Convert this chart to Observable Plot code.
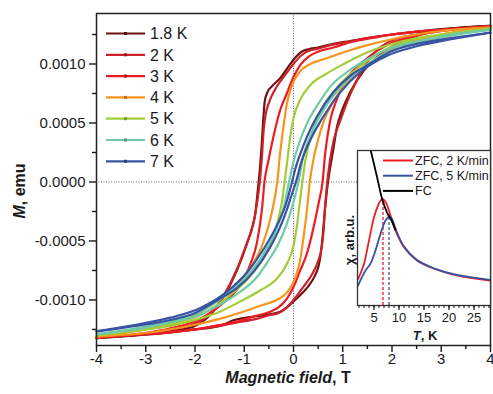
<!DOCTYPE html>
<html><head><meta charset="utf-8">
<script src="https://cdn.jsdelivr.net/npm/d3@7"></script>
<script src="https://cdn.jsdelivr.net/npm/@observablehq/plot@0.6"></script>
<style>
body{margin:0;background:#fff;}
#wrap{position:relative;width:493px;height:394px;font-family:"Liberation Sans",Arial,sans-serif;}
#wrap svg{position:absolute;left:0;top:0;}
</style></head><body><div id="wrap"></div>
<script>
// ---------- main chart data: hysteresis loops M(H), emu vs T ----------
const temps = ["1.8 K","2 K","3 K","4 K","5 K","6 K","7 K"];
const colors = ["#6d1212","#cc2229","#ed1c24","#f7941d","#a4cc39","#6fcaa5","#3953a4"];

// descending-field branch (listed by increasing H) and ascending-field branch
const down18 = [[-4,-0.001323],[-3,-0.001288],[-2.5,-0.001262],[-2,-0.00122],[-1.7,-0.00113],[-1.4,-0.00096],[-1.15,-0.00075],[-0.95,-0.00053],[-0.85,-0.0004],[-0.78,-0.00028],[-0.72,-0.00005],[-0.68,0.00012],[-0.645,0.00032],[-0.615,0.00052],[-0.585,0.00068],[-0.53,0.00076],[-0.44,0.00081],[-0.27,0.00088],[-0.1,0.00098],[0.03,0.00105],[0.15,0.0011],[0.3,0.001125],[0.5,0.00114],[0.75,0.001165],[1.15,0.001195],[1.5,0.00122],[2,0.00125],[2.5,0.001275],[3,0.001295],[4,0.001323]];
const up18 = [[-4,-0.001323],[-3,-0.001295],[-2.5,-0.001275],[-2,-0.00125],[-1.5,-0.00122],[-1.2,-0.00117],[-0.8,-0.00114],[-0.54,-0.001126],[-0.27,-0.0011],[-0.07,-0.00104],[0.07,-0.000985],[0.27,-0.0009],[0.44,-0.00079],[0.51,-0.00071],[0.55,-0.00062],[0.58,-0.00051],[0.64,-0.00023],[0.7,0.0],[0.76,0.00016],[0.81,0.00028],[0.88,0.00046],[0.98,0.0006],[1.15,0.00076],[1.42,0.00094],[1.76,0.00108],[2.1,0.00117],[2.5,0.00124],[3,0.001288],[4,0.001323]];

const down2 = [[-4,-0.00132],[-3,-0.00128],[-2.5,-0.00125],[-2,-0.0012],[-1.7,-0.00112],[-1.4,-0.00095],[-1.15,-0.00074],[-0.95,-0.00052],[-0.82,-0.00036],[-0.74,-0.00018],[-0.68,0.00002],[-0.64,0.00022],[-0.61,0.00042],[-0.57,0.00056],[-0.5,0.00067],[-0.38,0.00078],[-0.2,0.00089],[0,0.001],[0.15,0.00107],[0.3,0.00111],[0.5,0.00113],[0.75,0.00116],[1.15,0.00119],[1.5,0.00122],[2,0.00125],[2.5,0.001272],[3,0.00129],[4,0.00132]];
const up2 = [[-4,-0.00132],[-3,-0.00129],[-2.5,-0.001272],[-2,-0.00125],[-1.5,-0.00122],[-1.15,-0.00119],[-0.75,-0.00116],[-0.5,-0.00113],[-0.3,-0.00111],[-0.15,-0.00107],[0,-0.001],[0.2,-0.00089],[0.38,-0.00078],[0.5,-0.00067],[0.57,-0.00056],[0.61,-0.00042],[0.64,-0.00022],[0.68,-0.00002],[0.74,0.00018],[0.82,0.00036],[0.95,0.00052],[1.15,0.00074],[1.4,0.00095],[1.7,0.00112],[2,0.0012],[2.5,0.00125],[3,0.00128],[4,0.00132]];

const down3 = [[-4,-0.00132],[-3,-0.00128],[-2.5,-0.00124],[-2,-0.00118],[-1.5,-0.00105],[-1.08,-0.00087],[-0.88,-0.0007],[-0.74,-0.00051],[-0.64,-0.00023],[-0.59,0.0],[-0.51,0.00018],[-0.41,0.00038],[-0.27,0.00061],[-0.136,0.00075],[0,0.00089],[0.136,0.00099],[0.3,0.00106],[0.47,0.0011],[0.81,0.00114],[1.2,0.00119],[1.6,0.00122],[2,0.00125],[2.5,0.001275],[3,0.00129],[4,0.00132]];
const up3 = [[-4,-0.00132],[-3,-0.00129],[-2.5,-0.001275],[-2,-0.00125],[-1.6,-0.00122],[-1.2,-0.00119],[-0.81,-0.00114],[-0.47,-0.0011],[-0.3,-0.00106],[-0.136,-0.00099],[0,-0.00089],[0.136,-0.00075],[0.27,-0.00061],[0.41,-0.00038],[0.51,-0.00018],[0.59,0.0],[0.64,0.00023],[0.74,0.00051],[0.88,0.0007],[1.08,0.00087],[1.5,0.00105],[2,0.00118],[2.5,0.00124],[3,0.00128],[4,0.00132]];

const down4 = [[-4,-0.00131],[-3,-0.00125],[-2.5,-0.0012],[-2,-0.00113],[-1.7,-0.00105],[-1.22,-0.0009],[-0.88,-0.00073],[-0.62,-0.00052],[-0.5,-0.00036],[-0.41,-0.0002],[-0.33,0.0],[-0.27,0.00025],[-0.2,0.00048],[-0.14,0.00065],[-0.03,0.00082],[0.14,0.00094],[0.34,0.001],[0.61,0.00104],[1.02,0.0011],[1.5,0.00116],[2,0.00121],[2.5,0.00125],[3,0.00128],[4,0.00131]];
const up4 = [[-4,-0.00131],[-3,-0.00128],[-2.5,-0.00125],[-2,-0.00121],[-1.5,-0.00116],[-1.02,-0.0011],[-0.61,-0.00104],[-0.34,-0.001],[-0.14,-0.00094],[0.03,-0.00082],[0.14,-0.00065],[0.2,-0.00048],[0.27,-0.00025],[0.33,0.0],[0.41,0.0002],[0.5,0.00036],[0.62,0.00052],[0.88,0.00073],[1.22,0.0009],[1.7,0.00105],[2,0.00113],[2.5,0.0012],[3,0.00125],[4,0.00131]];

const down5 = [[-4,-0.0013],[-3.2,-0.00126],[-2.5,-0.00121],[-1.9,-0.00113],[-1.35,-0.00098],[-0.88,-0.0008],[-0.575,-0.00062],[-0.37,-0.00041],[-0.24,-0.00018],[-0.18,0.0],[-0.12,0.0002],[-0.06,0.0004],[0,0.00054],[0.14,0.0007],[0.34,0.00082],[0.68,0.00092],[1.02,0.001],[1.5,0.0011],[2,0.00117],[2.5,0.00122],[3.2,0.00126],[4,0.0013]];
const up5 = [[-4,-0.0013],[-3.2,-0.00126],[-2.5,-0.00122],[-2,-0.00117],[-1.5,-0.0011],[-1.02,-0.001],[-0.68,-0.00092],[-0.34,-0.00082],[-0.14,-0.0007],[0,-0.00054],[0.06,-0.0004],[0.12,-0.0002],[0.18,0.0],[0.24,0.00018],[0.37,0.00041],[0.575,0.00062],[0.88,0.0008],[1.35,0.00098],[1.9,0.00113],[2.5,0.00121],[3.2,0.00126],[4,0.0013]];

const down6 = [[-4,-0.00129],[-3.2,-0.00124],[-2.5,-0.00118],[-1.9,-0.0011],[-1.35,-0.00095],[-0.95,-0.0008],[-0.61,-0.00061],[-0.37,-0.00042],[-0.2,-0.00022],[-0.09,0.0],[0,0.00017],[0.14,0.00036],[0.3,0.00052],[0.5,0.00066],[0.75,0.00081],[1.15,0.00095],[1.5,0.00104],[2,0.00114],[2.5,0.00119],[3.2,0.00125],[4,0.00129]];
const up6 = [[-4,-0.00129],[-3.2,-0.00125],[-2.5,-0.00119],[-2,-0.00114],[-1.5,-0.00104],[-1.15,-0.00095],[-0.75,-0.00081],[-0.5,-0.00066],[-0.3,-0.00052],[-0.14,-0.00036],[0,-0.00017],[0.1,0.0],[0.2,0.00022],[0.37,0.00042],[0.61,0.00061],[0.95,0.0008],[1.35,0.00095],[1.9,0.0011],[2.5,0.00118],[3.2,0.00124],[4,0.00129]];

const down7 = [[-4,-0.001265],[-3.2,-0.00121],[-2.5,-0.00115],[-1.9,-0.00107],[-1.35,-0.00093],[-0.95,-0.00077],[-0.61,-0.00057],[-0.34,-0.00037],[-0.14,-0.00017],[-0.03,0.0],[0.03,0.0001],[0.14,0.00024],[0.27,0.00038],[0.47,0.00055],[0.81,0.00076],[1.15,0.0009],[1.5,0.00099],[2,0.00111],[2.5,0.00117],[3.2,0.00122],[4,0.001267]];
const up7 = [[-4,-0.001267],[-3.2,-0.00122],[-2.5,-0.00117],[-2,-0.00111],[-1.5,-0.00099],[-1.15,-0.0009],[-0.81,-0.00076],[-0.47,-0.00055],[-0.27,-0.00038],[-0.14,-0.00024],[-0.03,-0.0001],[0.05,0.0],[0.16,0.00017],[0.36,0.00037],[0.63,0.00057],[0.97,0.00077],[1.35,0.00093],[1.9,0.00107],[2.5,0.00115],[3.2,0.00121],[4,0.001265]];

const branches = [
  ["1.8 K", down18, up18], ["2 K", down2, up2], ["3 K", down3, up3],
  ["4 K", down4, up4], ["5 K", down5, up5], ["6 K", down6, up6], ["7 K", down7, up7]
];

// axis ticks
const xMajor = [-4,-3,-2,-1,0,1,2,3,4];
const xMinor = [-3.5,-2.5,-1.5,-0.5,0.5,1.5,2.5,3.5];
const yMajor = [-0.001,-0.0005,0,0.0005,0.001];
const yMinor = [-0.00125,-0.00075,-0.00025,0.00025,0.00075,0.00125];

// ---------- inset data: susceptibility vs T ----------
const tZfc2 = [1.8,3,4,5,5.8,6.4,6.8,7.5,8.3,9.3,11,13.6,17,21.6,28.2];
const vZfc2 = [0.17,0.27,0.42,0.57,0.645,0.68,0.686,0.656,0.58,0.484,0.376,0.29,0.237,0.194,0.161];
const tZfc5 = [1.8,3.3,4.3,5.3,6.3,7.3,8.0,8.6,9.3,11,13.6,17,21.6,28.2];
const vZfc5 = [0.129,0.226,0.27,0.355,0.462,0.548,0.574,0.559,0.495,0.38,0.293,0.24,0.197,0.165];
const tFc = [4.2,5.6,6.6,7.6,8.3,9.3];
const vFc = [1.02,0.83,0.69,0.6,0.56,0.49];
const peakT = [6.8,8.0];
const peakV = [0.686,0.574];
const insetSeries = ["ZFC, 2 K/min","ZFC, 5 K/min","FC"];
const insetColors = ["#ed1c24","#3953a4","#000000"];
const tMajor = [5,10,15,20,25];
const tMinor = d3.range(2,29);

// ---------- build rows ----------
const rows = [];
for (const [T, dn, up] of branches) {
  for (const [H, M] of dn) rows.push({T, br: "d", H, M});
  for (const [H, M] of up) rows.push({T, br: "u", H, M});
}
const colorOf = new Map(temps.map((t, i) => [t, colors[i]]));

const font = "Liberation Sans, Arial, sans-serif";
const main = Plot.plot({
  width: 493, height: 394,
  marginLeft: 96, marginRight: 3, marginTop: 13, marginBottom: 49,
  style: {fontFamily: font, fontSize: "15px", background: "transparent", color: "#1a1a1a"},
  x: {domain: [-4, 4]},
  y: {domain: [-0.001386, 0.001428]},
  marks: [
    Plot.ruleX([0], {stroke: "#555", strokeWidth: 0.9, strokeDasharray: "1,1.5"}),
    Plot.ruleY([0], {stroke: "#555", strokeWidth: 0.9, strokeDasharray: "1,1.5"}),
    Plot.line(rows, {x: "H", y: "M", z: d => d.T + d.br, stroke: d => colorOf.get(d.T), strokeWidth: 2.2, curve: "monotone-x"}),
    Plot.frame({stroke: "#222", strokeWidth: 1.5}),
    Plot.axisX({ticks: xMajor, tickSize: 7, tickPadding: 1, tickFormat: d => String(d), label: null, strokeWidth: 1.4, fontSize: 15}),
    Plot.axisX({ticks: xMinor, tickSize: 4, tickFormat: () => "", label: null, strokeWidth: 1.4}),
    Plot.axisY({ticks: yMajor, tickSize: 7, tickPadding: 4, tickFormat: d => d.toFixed(4), label: null, strokeWidth: 1.4, fontSize: 15}),
    Plot.axisY({ticks: yMinor, tickSize: 4, tickFormat: () => "", label: null, strokeWidth: 1.4})
  ]
});
const wrap = document.getElementById("wrap");
wrap.appendChild(main);

const ms = d3.select(main);
// axis titles
const xt = ms.append("text").attr("x", 288).attr("y", 383).attr("text-anchor", "middle")
  .attr("font-family", font).attr("font-size", 16).attr("font-weight", "bold").attr("fill", "#1a1a1a");
xt.append("tspan").attr("font-style", "italic").text("Magnetic field");
xt.append("tspan").text(", T");
const yt = ms.append("text").attr("transform", "translate(25,191) rotate(-90)").attr("text-anchor", "middle")
  .attr("font-family", font).attr("font-size", 16).attr("font-weight", "bold").attr("fill", "#1a1a1a");
yt.append("tspan").attr("font-style", "italic").text("M");
yt.append("tspan").text(", emu");

// legend
const lg = ms.append("g").attr("font-family", font).attr("font-size", 16).attr("fill", "#1a1a1a").attr("text-anchor", "start");
temps.forEach((t, i) => {
  const y = 33.5 + i * 21.3;
  lg.append("line").attr("x1", 106).attr("x2", 145).attr("y1", y).attr("y2", y)
    .attr("stroke", colors[i]).attr("stroke-width", 2.2);
  lg.append("rect").attr("x", 124).attr("y", y - 1.5).attr("width", 3).attr("height", 3)
    .attr("fill", d3.color(colors[i]).darker(0.8));
  lg.append("text").attr("x", 150).attr("y", y).attr("dy", "0.36em").attr("text-anchor", "start").text(t);
});

// ---------- inset ----------
const insetRows = [];
tZfc2.forEach((t, i) => insetRows.push({s: insetSeries[0], t, v: vZfc2[i]}));
tZfc5.forEach((t, i) => insetRows.push({s: insetSeries[1], t, v: vZfc5[i]}));
tFc.forEach((t, i) => insetRows.push({s: insetSeries[2], t, v: vFc[i]}));
const peaks = peakT.map((t, i) => ({t, v: peakV[i], c: insetColors[i]}));

const inset = Plot.plot({
  width: 153, height: 205,
  marginLeft: 17, marginRight: 3, marginTop: 10, marginBottom: 40,
  style: {fontFamily: font, fontSize: "13px", background: "transparent", color: "#1a1a1a", overflow: "visible"},
  x: {domain: [1.7, 28.3]},
  y: {domain: [0, 1], axis: null},
  color: {domain: insetSeries, range: insetColors},
  marks: [
    Plot.frame({fill: "white", stroke: "none"}),
    Plot.ruleX(peaks, {x: "t", y1: 0, y2: "v", stroke: "c", strokeWidth: 1.3, strokeDasharray: "3,2"}),
    Plot.line(insetRows, {x: "t", y: "v", z: "s", stroke: "s", strokeWidth: 1.8, curve: "catmull-rom", clip: true}),
    Plot.frame({stroke: "#333", strokeWidth: 1.3}),
    Plot.axisX({ticks: tMajor, tickSize: 5, tickPadding: 2, tickFormat: d => String(d), label: null, strokeWidth: 1.2, fontSize: 13}),
    Plot.axisX({ticks: tMinor, tickSize: 3, tickFormat: () => "", label: null, strokeWidth: 1})
  ]
});
inset.style.left = "340px";
inset.style.top = "140px";
wrap.appendChild(inset);
const is = d3.select(inset);
const tt = is.append("text").attr("x", 85).attr("y", 200).attr("text-anchor", "middle")
  .attr("font-family", font).attr("font-size", 13).attr("font-weight", "bold").attr("fill", "#1a1a1a");
tt.append("tspan").attr("font-style", "italic").text("T");
tt.append("tspan").text(", K");
is.append("text").attr("transform", "translate(14,100) rotate(-90)").attr("text-anchor", "middle")
  .attr("font-family", font).attr("font-size", 13).attr("font-weight", "bold").attr("fill", "#1a1a1a")
  .text("χ, arb.u.");
const il = is.append("g").attr("font-family", font).attr("font-size", 12.5).attr("fill", "#1a1a1a").attr("text-anchor", "start");
insetSeries.forEach((s, i) => {
  const y = 20.5 + i * 15.2;
  il.append("line").attr("x1", 43).attr("x2", 73).attr("y1", y).attr("y2", y)
    .attr("stroke", insetColors[i]).attr("stroke-width", 2);
  il.append("text").attr("x", 75).attr("y", y).attr("dy", "0.36em").attr("text-anchor", "start").text(s);
});
</script>
</body></html>
